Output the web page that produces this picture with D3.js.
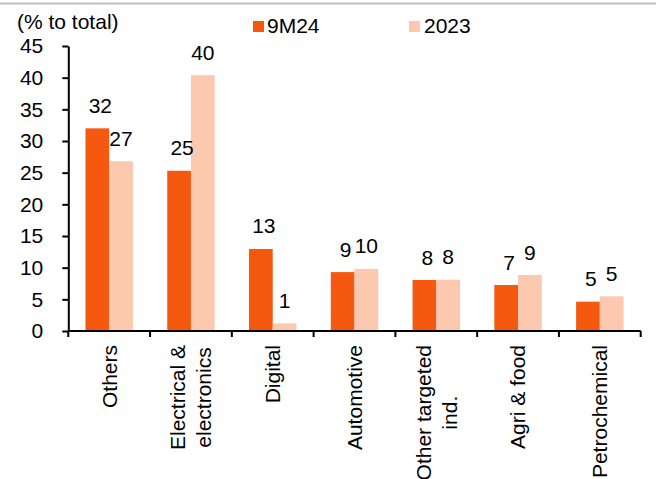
<!DOCTYPE html>
<html>
<head>
<meta charset="utf-8">
<script src="https://cdn.jsdelivr.net/npm/d3@7"></script>
<style>
  html, body { margin: 0; padding: 0; background: #fff; }
  svg { display: block; }
  text { font-family: "Liberation Sans", Arial, sans-serif; fill: #000; }
</style>
</head>
<body>
<svg id="chart" width="656" height="479"></svg>
<script>
// Share of total by sector (%)
const categories = [
  ["Others"],
  ["Electrical &", "electronics"],
  ["Digital"],
  ["Automotive"],
  ["Other targeted", "ind."],
  ["Agri & food"],
  ["Petrochemical"]
];
const seriesNames = ["9M24", "2023"];
const values9M24 = [32.0, 25.3, 12.95, 9.3, 8.05, 7.26, 4.63];
const values2023 = [26.8, 40.4, 1.2, 9.8, 8.1, 8.84, 5.47];
const yTicks = [0, 5, 10, 15, 20, 25, 30, 35, 40, 45];
const colors = ["#F5590F", "#FCC8AE"];

const svg = d3.select("#chart");
const W = 656, H = 479;
const fs = 21;

const plotLeft = 68.3, plotRight = 640.7, plotTop = 46, plotBottom = 331;

const catKeys = categories.map(c => c.join(" "));
const x0 = d3.scaleBand().domain(catKeys).range([plotLeft, plotRight]).padding(0);
const bw = x0.bandwidth();
const x1 = d3.scaleBand().domain(seriesNames).range([bw * 0.21, bw * 0.79]).padding(0);
const y = d3.scaleLinear().domain([0, 45]).range([plotBottom, plotTop]);

// top rule
svg.append("line")
  .attr("x1", 0).attr("x2", W).attr("y1", 3.5).attr("y2", 3.5)
  .attr("stroke", "#bfbfbf").attr("stroke-width", 2);

// bars
const rows = catKeys.map((k, i) => ({ key: k, vals: [values9M24[i], values2023[i]] }));
const groups = svg.append("g").selectAll("g").data(rows).join("g")
  .attr("transform", d => `translate(${x0(d.key)},0)`);

groups.selectAll("rect")
  .data(d => d.vals.map((v, j) => ({ s: seriesNames[j], v, j })))
  .join("rect")
  .attr("x", d => x1(d.s))
  .attr("width", x1.bandwidth())
  .attr("y", d => y(d.v))
  .attr("height", d => y(0) - y(d.v))
  .attr("fill", d => colors[d.j]);

// value labels
const fmt = d3.format(".0f");
groups.selectAll("text.val")
  .data(d => d.vals.map((v, j) => ({ s: seriesNames[j], v, j })))
  .join("text")
  .attr("class", "val")
  .attr("x", d => x1(d.s) + x1.bandwidth() / 2 + (d.j === 0 ? 3 : 0))
  .attr("y", d => y(d.v) - 15.5)
  .attr("text-anchor", "middle")
  .style("font-size", fs + "px")
  .text(d => fmt(d.v));

// y axis
const yAxis = svg.append("g")
  .attr("transform", `translate(${plotLeft},0)`)
  .call(d3.axisLeft(y).tickValues(yTicks).tickSize(6).tickPadding(19).tickSizeOuter(0));
yAxis.select(".domain").attr("stroke", "#000").attr("stroke-width", 2);
yAxis.selectAll(".tick line").attr("stroke", "#000").attr("stroke-width", 2);
yAxis.selectAll(".tick text")
  .style("font-size", fs + "px")
  .style("font-family", "'Liberation Sans', Arial, sans-serif")
  .attr("fill", "#000");

// x axis with ticks at category boundaries
const xa = svg.append("g");
xa.append("line")
  .attr("x1", plotLeft).attr("x2", plotRight).attr("y1", plotBottom).attr("y2", plotBottom)
  .attr("stroke", "#000").attr("stroke-width", 2);
const edges = catKeys.map(k => x0(k)).concat([plotRight]);
xa.selectAll("line.edge").data(edges).join("line")
  .attr("class", "edge")
  .attr("x1", d => d).attr("x2", d => d)
  .attr("y1", plotBottom).attr("y2", plotBottom + 6)
  .attr("stroke", "#000").attr("stroke-width", 2);

// rotated category labels, longest line ending at the top, lines centred
const lineGap = 26;
categories.forEach((lines, i) => {
  const cx = x0(catKeys[i]) + bw / 2;
  const g = svg.append("g").attr("transform", `translate(${cx},${plotBottom + 14}) rotate(-90)`);
  const n = lines.length;
  const ts = lines.map((t, k) => g.append("text")
    .attr("text-anchor", "middle")
    .attr("y", (k - (n - 1) / 2) * lineGap + fs * 0.35)
    .style("font-size", fs + "px")
    .text(t));
  const maxLen = d3.max(ts, t => t.node().getComputedTextLength());
  ts.forEach(t => t.attr("x", -maxLen / 2));
});

// axis title
svg.append("text")
  .attr("x", 17).attr("y", 29)
  .style("font-size", fs + "px")
  .text("(% to total)");

// legend
const legendPos = [{ x: 253, tx: 267 }, { x: 409, tx: 424 }];
seriesNames.forEach((s, j) => {
  svg.append("rect")
    .attr("x", legendPos[j].x).attr("y", 21)
    .attr("width", 11).attr("height", 11)
    .attr("fill", colors[j]);
  svg.append("text")
    .attr("x", legendPos[j].tx).attr("y", 33)
    .style("font-size", fs + "px")
    .text(s);
});
</script>
</body>
</html>
